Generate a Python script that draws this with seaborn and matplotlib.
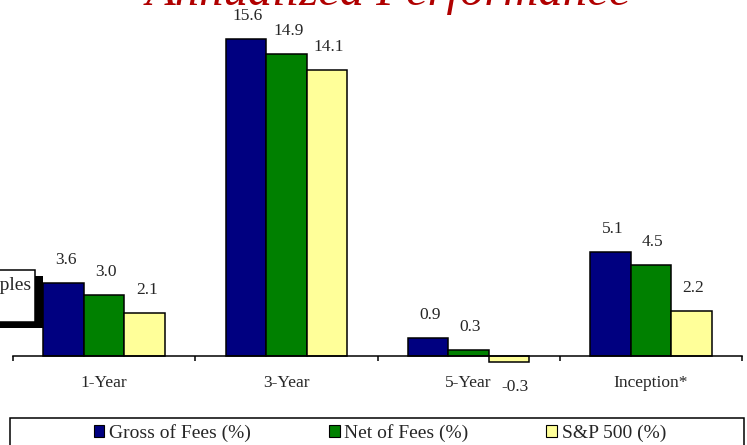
import matplotlib
matplotlib.use("Agg")
import matplotlib.pyplot as plt
import seaborn as sns
import pandas as pd
from matplotlib.patches import Rectangle, Patch

# Annualized returns by period
periods = ["1-Year", "3-Year", "5-Year", "Inception*"]
series = ["Gross of Fees (%)", "Net of Fees (%)", "S&P 500 (%)"]
gross = [3.6, 15.6, 0.9, 5.1]
net = [3.0, 14.9, 0.3, 4.5]
sp500 = [2.1, 14.1, -0.3, 2.2]
colors = ["#000080", "#008000", "#FFFF99"]

df = pd.DataFrame({
    "Period": periods * 3,
    "Series": [s for s in series for _ in periods],
    "Return": gross + net + sp500,
})

sns.set_theme(style="white")
plt.rcParams["font.family"] = ["Liberation Serif", "DejaVu Serif"]

W, H = 747, 445
fig = plt.figure(figsize=(W / 100, H / 100), dpi=100)


def fx(px):
    return px / W


def fy(py):
    return 1 - py / H


# plot area in pixel terms: x 13..742, y 20..375 (zero line at 356)
ax = fig.add_axes([fx(13), fy(375), fx(742) - fx(13), (375 - 20) / H])
sns.barplot(data=df, x="Period", y="Return", hue="Series", palette=colors,
            width=0.667, gap=0, edgecolor="black", linewidth=1.1,
            saturation=1, errorbar=None, legend=False, ax=ax)

ppu = 20.3
ax.set_ylim(-(375 - 356) / ppu, (356 - 20) / ppu)
ax.set_xlim(-0.5, 3.5)
ax.set_xlabel("")
ax.set_ylabel("")
ax.set_yticks([])
ax.set_facecolor("white")

for side in ["left", "right", "top"]:
    ax.spines[side].set_visible(False)
ax.spines["bottom"].set_position(("data", 0))
ax.spines["bottom"].set_color("black")
ax.spines["bottom"].set_linewidth(1.1)

ax.set_xticks(range(len(periods)))
ax.set_xticklabels(periods, fontsize=12.5)
ax.set_xticks([-0.5, 0.5, 1.5, 2.5, 3.5], minor=True)
ax.tick_params(axis="x", which="major", length=0, pad=14)
ax.tick_params(axis="x", which="minor", length=3.5, width=1.1,
               direction="out", color="black", bottom=True)

# value labels
for cont, vals in zip(ax.containers, [gross, net, sp500]):
    for bar, v in zip(cont, vals):
        xc = bar.get_x() + bar.get_width() / 2
        if v >= 0:
            ax.annotate(f"{v:.1f}", (xc, v), xytext=(2, 23),
                        textcoords="offset pixels", ha="center", va="center",
                        fontsize=12.5)
        else:
            ax.annotate(f"{v:.1f}", (xc, v), xytext=(6, -25),
                        textcoords="offset pixels", ha="center", va="center",
                        fontsize=12.5)

# title
fig.text(fx(388), fy(5), "Annualized Performance", ha="center",
         va="baseline", fontsize=35, style="italic", color="#B00000")

# note box with drop shadow at the left edge
fig.add_artist(Rectangle((fx(-20), fy(328)), fx(63), (328 - 276) / H,
                         transform=fig.transFigure, facecolor="black",
                         edgecolor="none", zorder=5))
fig.add_artist(Rectangle((fx(-20), fy(322)), fx(55), (322 - 270) / H,
                         transform=fig.transFigure, facecolor="white",
                         edgecolor="black", linewidth=1.1, zorder=6))
fig.text(fx(32), fy(286), "Examples", ha="right", va="center", fontsize=14,
         zorder=7)

# legend frame
fig.add_artist(Rectangle((fx(10), fy(460)), fx(734), (460 - 418) / H,
                         transform=fig.transFigure, facecolor="white",
                         edgecolor="black", linewidth=1.1, zorder=4))
handles = [Patch(facecolor=c, edgecolor="black", linewidth=0.8) for c in colors]
leg = fig.legend(handles, series, loc="center", bbox_to_anchor=(fx(380), fy(433)),
                 ncol=3, frameon=False, fontsize=14, handlelength=0.55,
                 handleheight=0.55, handletextpad=0.25, columnspacing=4.0)
leg.set_zorder(8)

fig.savefig("out.png", dpi=100)
